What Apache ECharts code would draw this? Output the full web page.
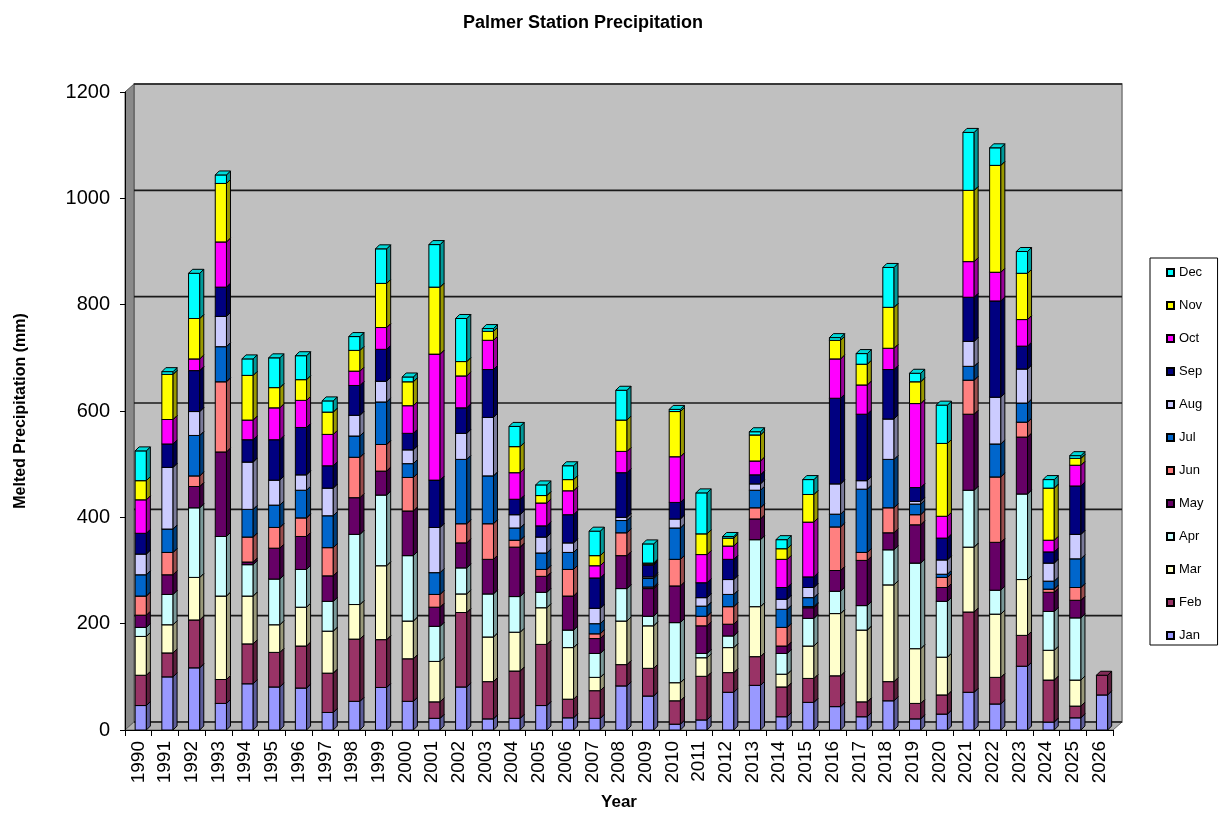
<!DOCTYPE html>
<html>
<head>
<meta charset="utf-8">
<title>Palmer Station Precipitation</title>
<script src="https://cdn.jsdelivr.net/npm/echarts@6/dist/echarts.min.js"></script>
<style>
  html, body { margin: 0; padding: 0; background: #fff; }
  #chart { width: 1220px; height: 816px; }
</style>
</head>
<body>
<div id="chart"></div>
<script>
// years on the x axis
var years = ['1990','1991','1992','1993','1994','1995','1996','1997','1998','1999',
  '2000','2001','2002','2003','2004','2005','2006','2007','2008','2009',
  '2010','2011','2012','2013','2014','2015','2016','2017','2018','2019',
  '2020','2021','2022','2023','2024','2025','2026']

// monthly melted precipitation (mm)
var jan = [46,100,117,50,87,81,79,33,54,80,54,22,81,21,22,46,23,22,83,64,11,19,71,84,25,52,44,25,55,21,30,71,49,120,15,23,66]
var feb = [57,45,90,45,75,65,79,74,117,90,80,31,140,70,89,115,35,52,40,52,44,82,37,54,56,45,58,28,36,29,36,151,50,58,79,22,37]
var mar = [73,53,80,157,90,52,73,79,65,139,71,76,35,84,73,69,97,25,82,80,34,35,47,94,24,61,117,135,182,103,71,122,119,105,56,49,0]
var apr = [17,57,131,112,59,86,71,56,132,133,123,66,49,81,67,29,33,45,61,18,113,8,22,126,39,52,42,46,66,161,105,107,45,161,73,117,0]
var may = [23,37,40,159,5,58,62,48,69,45,84,36,47,65,93,30,64,28,62,52,69,52,22,39,14,20,39,85,32,72,26,143,90,107,36,33,0]
var jun = [36,42,20,132,47,39,35,53,76,50,63,24,36,67,13,13,50,9,43,3,50,18,33,21,35,2,82,15,47,19,19,64,123,28,6,24,0]
var jul = [40,44,76,66,52,42,52,60,40,80,26,41,121,90,23,31,32,19,23,16,59,19,23,33,34,17,24,119,91,20,6,26,62,36,15,54,0]
var aug = [39,116,45,57,89,47,29,52,39,39,26,85,49,110,25,30,18,29,6,3,17,16,28,12,19,19,57,16,76,5,27,47,88,64,34,46,0]
var sep = [39,44,77,55,42,76,89,42,56,60,31,89,48,90,29,21,53,57,84,22,31,28,38,17,22,20,161,125,93,26,41,83,181,43,21,91,0]
var oct = [63,46,22,85,37,60,51,59,27,41,52,237,60,55,50,43,45,23,40,2,86,53,25,26,53,103,74,55,40,158,41,67,54,50,22,39,0]
var nov = [36,85,76,110,84,38,39,42,39,83,45,126,27,17,49,14,21,19,59,2,85,39,15,49,20,52,35,39,77,41,137,134,201,87,98,13,0]
var dec = [56,5,85,16,31,56,45,21,26,65,9,80,81,5,38,20,26,46,56,36,4,77,3,6,17,28,5,20,75,16,72,109,33,41,16,5,0]

var monthNames = ['Jan','Feb','Mar','Apr','May','Jun','Jul','Aug','Sep','Oct','Nov','Dec']
var monthData = [jan, feb, mar, apr, may, jun, jul, aug, sep, oct, nov, dec]
var monthColors = ['#9999FF','#993366','#FFFFCC','#CCFFFF','#660066','#FF8080',
  '#0066CC','#CCCCFF','#000080','#FF00FF','#FFFF00','#00FFFF']

// y axis ticks
var yTicks = [0, 200, 400, 600, 800, 1000, 1200]

var FONT = 'Liberation Sans, Arial, sans-serif'
var WALL_DX = 9, WALL_DY = 8   // depth of the back wall
var BAR_D = 4                  // depth of a column

function shade (hex, k) {
  var n = parseInt(hex.slice(1), 16)
  var r = Math.round(((n >> 16) & 255) * k)
  var g = Math.round(((n >> 8) & 255) * k)
  var b = Math.round((n & 255) * k)
  return 'rgb(' + r + ',' + g + ',' + b + ')'
}

// walls, floor and gridlines of the 3d box
function renderFrame (params, api) {
  var cs = params.coordSys
  var left = cs.x, right = cs.x + cs.width
  var top = cs.y, bottom = cs.y + cs.height
  var children = [
    {type: 'rect', shape: {x: left + WALL_DX, y: top - WALL_DY, width: cs.width, height: cs.height},
      style: {fill: '#c0c0c0', stroke: '#7a7a7a', lineWidth: 1.5}},
    {type: 'polygon', shape: {points: [[left, top], [left + WALL_DX, top - WALL_DY], [left + WALL_DX, bottom - WALL_DY], [left, bottom]]},
      style: {fill: '#8a8a8a', stroke: '#555', lineWidth: 1}},
    {type: 'polygon', shape: {points: [[left, bottom], [left + WALL_DX, bottom - WALL_DY], [right + WALL_DX, bottom - WALL_DY], [right, bottom]]},
      style: {fill: '#b2b2b2', stroke: '#666', lineWidth: 1}}
  ]
  yTicks.forEach(function (v) {
    var y = api.coord([0, v])[1] - WALL_DY
    children.push({type: 'line', shape: {x1: left + WALL_DX, y1: y, x2: right + WALL_DX, y2: y},
      style: {stroke: '#1a1a1a', lineWidth: 1.6}})
  })
  return {type: 'group', children: children}
}

// one stacked 3d column segment
function renderSegment (params, api) {
  var base = api.value(1)
  var topV = api.value(2)
  if (topV <= base) return null
  var color = monthColors[params.seriesIndex - 1]
  var p0 = api.coord([api.value(0), base])
  var p1 = api.coord([api.value(0), topV])
  var band = api.size([1, 0])[0]
  var x0 = p0[0] - band * 0.12
  var x1 = x0 + band * 0.42
  var y0 = p1[1], y1 = p0[1]
  var d = BAR_D
  var line = {stroke: '#000', lineWidth: 1}
  return {type: 'group', children: [
    {type: 'rect', shape: {x: x0, y: y0, width: x1 - x0, height: y1 - y0},
      style: Object.assign({fill: color}, line)},
    {type: 'polygon', shape: {points: [[x1, y0], [x1 + d, y0 - d], [x1 + d, y1 - d], [x1, y1]]},
      style: Object.assign({fill: shade(color, 0.6)}, line)},
    {type: 'polygon', shape: {points: [[x0, y0], [x0 + d, y0 - d], [x1 + d, y0 - d], [x1, y0]]},
      style: Object.assign({fill: shade(color, 0.85)}, line)}
  ]}
}

var series = [{
  name: 'frame',
  type: 'custom',
  silent: true,
  z: 0,
  renderItem: renderFrame,
  encode: {x: 0, y: 1},
  data: [[0, 0]]
}]

// running totals so the months stack
var cum = years.map(function () { return 0 })
monthData.forEach(function (vals, m) {
  var data = vals.map(function (v, i) {
    var item = [i, cum[i], cum[i] + v]
    cum[i] += v
    return item
  })
  series.push({
    name: monthNames[m],
    type: 'custom',
    z: 2,
    renderItem: renderSegment,
    itemStyle: {color: monthColors[m], borderColor: '#000', borderWidth: 1},
    encode: {x: 0, y: [1, 2]},
    data: data
  })
})

var myChart = echarts.init(document.getElementById('chart'))
var option = {
  backgroundColor: '#fff',
  animation: false,
  title: {
    text: 'Palmer Station Precipitation',
    left: 458,
    top: 9,
    textStyle: {fontFamily: FONT, fontSize: 18, fontWeight: 'bold', color: '#000'}
  },
  legend: {
    data: monthNames.slice().reverse(),
    orient: 'vertical',
    left: 1150,
    top: 258,
    icon: 'rect',
    itemWidth: 7,
    itemHeight: 7,
    itemGap: 20,
    padding: [8, 14, 3, 16],
    borderColor: '#000',
    borderWidth: 1,
    backgroundColor: '#fff',
    textStyle: {fontFamily: FONT, fontSize: 13, color: '#000'}
  },
  grid: {
    left: 125,
    right: 107,
    top: 92,
    bottom: 84
  },
  xAxis: {
    type: 'category',
    data: years,
    name: 'Year',
    nameLocation: 'middle',
    nameGap: 64,
    nameTextStyle: {fontFamily: FONT, fontSize: 17, fontWeight: 'bold', color: '#000'},
    axisLine: {show: true, lineStyle: {color: '#000', width: 1}},
    axisTick: {show: true, length: 6, lineStyle: {color: '#000'}},
    axisLabel: {interval: 0, rotate: 90, margin: 11, fontFamily: FONT, fontSize: 19, color: '#000'},
    splitLine: {show: false}
  },
  yAxis: {
    type: 'value',
    min: 0,
    max: 1200,
    interval: 200,
    name: 'Melted Precipitation (mm)',
    nameLocation: 'middle',
    nameGap: 96,
    nameTextStyle: {fontFamily: FONT, fontSize: 16, fontWeight: 'bold', color: '#000'},
    axisLine: {show: true, lineStyle: {color: '#000', width: 1}},
    axisTick: {show: true, length: 5, lineStyle: {color: '#000'}},
    axisLabel: {
      margin: 15,
      fontFamily: FONT,
      fontSize: 20,
      color: '#000',
      formatter: function (v) { return String(v) }
    },
    splitLine: {show: false}
  },
  series: series
}
myChart.setOption(option)
</script>
</body>
</html>
